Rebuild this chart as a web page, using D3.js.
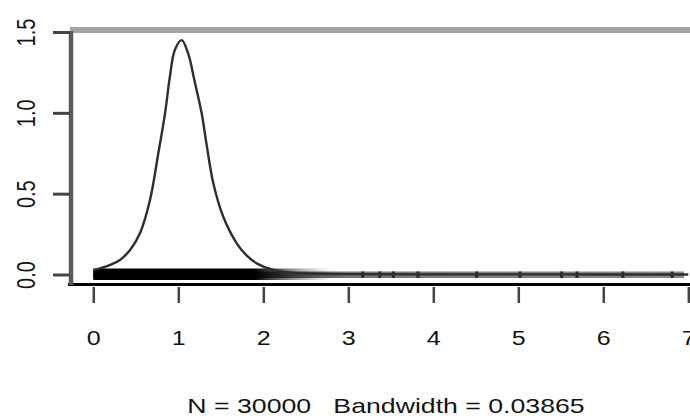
<!DOCTYPE html>
<html>
<head>
<meta charset="utf-8">
<script src="https://cdn.jsdelivr.net/npm/d3@7/dist/d3.min.js"></script>
<style>
html,body{margin:0;padding:0;background:#fff;}
svg{display:block;}
text{font-family:"Liberation Sans",Arial,Helvetica,sans-serif;fill:#141414;}
</style>
</head>
<body>
<svg id="chart" width="690" height="416"></svg>
<script>
// density curve (x, density)
const densX = [0.0, 0.079, 0.20, 0.314, 0.43, 0.549, 0.667, 0.765, 0.844, 0.90, 0.96, 1.04, 1.12, 1.19, 1.275, 1.334, 1.412, 1.529, 1.687, 1.80, 1.922, 2.118, 2.35, 2.7, 3.2, 4.0, 5.0, 6.0, 7.0];
const densY = [0.025, 0.038, 0.06, 0.09, 0.15, 0.255, 0.461, 0.75, 0.997, 1.22, 1.39, 1.45, 1.36, 1.20, 0.997, 0.80, 0.564, 0.357, 0.193, 0.12, 0.069, 0.028, 0.01, 0.004, 0.002, 0.001, 0.001, 0.0, 0.0];
// rug band shading along x (data units) and gray level
const rugStops = [0, 1.85, 2.05, 2.3, 2.6, 3.0, 6.95];
const rugGray  = ["#000", "#000", "#1a1a1a", "#333", "#555", "#777", "#8a8a8a"];
// sparse outlying rug marks
const rugMarks = [3.17, 3.37, 3.53, 3.82, 4.51, 5.02, 5.51, 5.69, 6.23, 6.81];
// ticks
const xTicks = [0, 1, 2, 3, 4, 5, 6, 7];
const yTicks = [0, 0.5, 1.0, 1.5];
const yTickLabels = ["0.0", "0.5", "1.0", "1.5"];
const xLabel = "N = 30000   Bandwidth = 0.03865";

const svg = d3.select("#chart");
const x = d3.scaleLinear().domain([0, 7]).range([93.3, 688.3]);
const y = d3.scaleLinear().domain([0, 1.5]).range([274.5, 32]);

// top gray line at 1.5
svg.append("line").attr("x1", 70).attr("x2", 690)
  .attr("y1", 30).attr("y2", 30)
  .attr("stroke", "#a3a3a3").attr("stroke-width", 6);

// rug gradient
const defs = svg.append("defs");
const grad = defs.append("linearGradient").attr("id", "rugGrad")
  .attr("gradientUnits", "userSpaceOnUse")
  .attr("x1", x(0)).attr("x2", x(6.95)).attr("y1", 0).attr("y2", 0);
rugStops.forEach((s, i) => {
  grad.append("stop").attr("offset", s / 6.95).attr("stop-color", rugGray[i]);
});
const gradO = defs.append("linearGradient").attr("id", "rugGradO")
  .attr("gradientUnits", "userSpaceOnUse")
  .attr("x1", x(0)).attr("x2", x(2.8)).attr("y1", 0).attr("y2", 0);
gradO.append("stop").attr("offset", 0).attr("stop-color", "#000").attr("stop-opacity", 1);
gradO.append("stop").attr("offset", 1.9 / 2.8).attr("stop-color", "#000").attr("stop-opacity", 1);
gradO.append("stop").attr("offset", 2.3 / 2.8).attr("stop-color", "#333").attr("stop-opacity", 0.6);
gradO.append("stop").attr("offset", 1).attr("stop-color", "#666").attr("stop-opacity", 0);

// thin rug line
svg.append("rect").attr("x", x(0)).attr("width", x(6.95) - x(0))
  .attr("y", y(0) - 3).attr("height", 6.5).attr("fill", "url(#rugGrad)");
// thick dense band
svg.append("rect").attr("x", x(0)).attr("width", x(2.8) - x(0))
  .attr("y", y(0) - 6).attr("height", 11.5).attr("fill", "url(#rugGradO)");
// sparse marks
svg.append("g").selectAll("rect").data(rugMarks).join("rect")
  .attr("x", d => x(d) - 1.5).attr("width", 3)
  .attr("y", y(0) - 3).attr("height", 6.5).attr("fill", "#2a2a2a");

// density curve
const line = d3.line().x((d, i) => x(densX[i])).y(d => y(d)).curve(d3.curveCatmullRom.alpha(0.5));
svg.append("path").datum(densY).attr("d", line)
  .attr("fill", "none").attr("stroke", "#2e2e2e").attr("stroke-width", 2.4)
  .attr("stroke-linejoin", "round");

// x axis line
svg.append("line").attr("x1", 68).attr("x2", 690)
  .attr("y1", 284.5).attr("y2", 284.5)
  .attr("stroke", "#000").attr("stroke-width", 3);

// y axis line
svg.append("line").attr("x1", 71).attr("x2", 71)
  .attr("y1", y(1.5) - 1).attr("y2", 285)
  .attr("stroke", "#5a5a5a").attr("stroke-width", 4.5);

// x axis ticks + labels
const xAxis = d3.axisBottom(x).tickValues(xTicks).tickSize(16).tickPadding(28).tickFormat(d3.format("d"));
const gx = svg.append("g").attr("transform", "translate(0,287)").call(xAxis);
gx.select(".domain").remove();
gx.selectAll(".tick line").attr("stroke", "#444").attr("stroke-width", 2.5);
gx.selectAll(".tick text").attr("font-size", 20).attr("fill", "#141414")
  .attr("font-family", "Liberation Sans, Arial, sans-serif")
  .attr("transform", "scale(1.25,1)");

// y axis ticks + rotated labels
const yAxis = d3.axisLeft(y).tickValues(yTicks).tickSize(17).tickFormat((d, i) => yTickLabels[i]);
const gy = svg.append("g").attr("transform", "translate(70,0)").call(yAxis);
gy.select(".domain").remove();
gy.selectAll(".tick line").attr("stroke", "#444").attr("stroke-width", 3);
gy.selectAll(".tick text")
  .attr("x", null).attr("dy", null)
  .attr("text-anchor", "middle")
  .attr("font-size", 20).attr("fill", "#141414")
  .attr("font-family", "Liberation Sans, Arial, sans-serif")
  .attr("transform", "translate(-35,0) scale(1.25,1) rotate(-90)");

// x axis label
svg.append("text")
  .attr("transform", "translate(386,413) scale(1.27,1)")
  .attr("text-anchor", "middle")
  .attr("font-size", 21)
  .style("white-space", "pre")
  .text(xLabel);
</script>
</body>
</html>
